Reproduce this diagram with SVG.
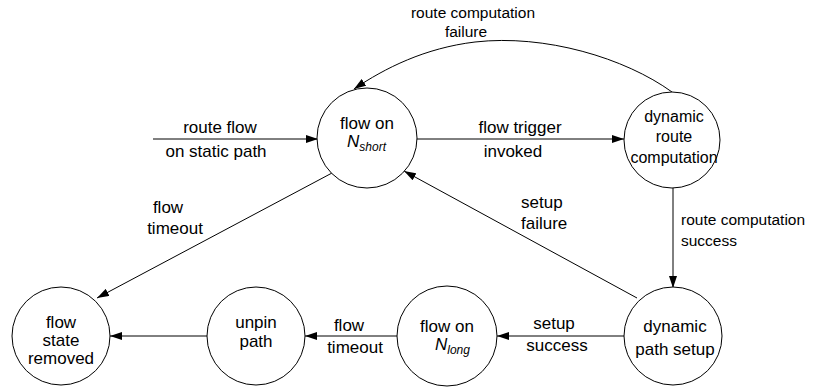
<svg xmlns="http://www.w3.org/2000/svg" width="819" height="388" viewBox="0 0 819 388">
<defs>
<marker id="ah" markerWidth="12" markerHeight="8" refX="12" refY="4" orient="auto" markerUnits="userSpaceOnUse">
<path d="M0,0 L12,4 L0,8 Z" fill="#000"/>
</marker>
<style>
.n{fill:#fff;stroke:#000;stroke-width:1}
.e{fill:none;stroke:#000;stroke-width:1;marker-end:url(#ah)}
text{font-family:"Liberation Sans",Arial,sans-serif;font-size:17px;fill:#000}
.c{text-anchor:middle}
.i{font-style:italic}
.s{font-size:12px;font-style:italic}
.m{font-size:15.5px}
.r{font-size:16px}
.q{font-size:15.5px}
</style>
</defs>
<rect width="819" height="388" fill="#fff"/>
<g id="edges">
<line class="e" x1="153" y1="139" x2="318" y2="139"/>
<line class="e" x1="417" y1="139" x2="624" y2="139"/>
<path class="e" d="M672,92 C625,58 545,34 475,42 C425,48 385,68 354,89"/>
<line class="e" x1="673" y1="187" x2="673" y2="288"/>
<line class="e" x1="637" y1="298" x2="404" y2="171"/>
<line class="e" x1="332" y1="173" x2="97" y2="298"/>
<line class="e" x1="624" y1="336" x2="497" y2="336"/>
<line class="e" x1="397" y1="336" x2="305" y2="336"/>
<line class="e" x1="207" y1="336" x2="110" y2="336"/>
<text class="c" x="220" y="133">route flow</text>
<text class="c" x="216" y="157">on static path</text>
<text class="c" x="520" y="133">flow trigger</text>
<text class="c" x="513" y="157">invoked</text>
<text class="c m" x="473" y="18">route computation</text>
<text class="c m" x="466" y="37">failure</text>
<text class="q" x="681" y="225">route computation</text>
<text class="q" x="681" y="246">success</text>
<text x="521" y="208">setup</text>
<text x="521" y="229">failure</text>
<text class="c" x="168" y="213">flow</text>
<text class="c" x="175" y="234">timeout</text>
<text class="c" x="554" y="329">setup</text>
<text class="c" x="557" y="351">success</text>
<text class="c" x="349" y="331">flow</text>
<text class="c" x="355" y="353">timeout</text>
</g>
<g id="n_short">
<circle class="n" cx="367" cy="138" r="50"/>
<text class="c" x="367" y="129">flow on</text>
<text x="347" y="147"><tspan class="i">N</tspan><tspan class="s" dy="4">short</tspan></text>
</g>
<g id="route_comp">
<circle class="n" cx="672" cy="140" r="48"/>
<text class="c r" x="674" y="122">dynamic</text>
<text class="c r" x="674" y="142">route</text>
<text class="c r" x="674" y="163">computation</text>
</g>
<g id="path_setup">
<circle class="n" cx="673" cy="336" r="49"/>
<text class="c" x="675" y="332">dynamic</text>
<text class="c" x="675" y="355">path setup</text>
</g>
<g id="n_long">
<circle class="n" cx="447" cy="336" r="50"/>
<text class="c" x="447" y="332">flow on</text>
<text x="435" y="350"><tspan class="i">N</tspan><tspan class="s" dy="4">long</tspan></text>
</g>
<g id="unpin">
<circle class="n" cx="256" cy="336" r="49"/>
<text class="c" x="256" y="328">unpin</text>
<text class="c" x="256" y="347">path</text>
</g>
<g id="removed">
<circle class="n" cx="61" cy="336" r="49"/>
<text class="c" x="61" y="328">flow</text>
<text class="c" x="61" y="346">state</text>
<text class="c" x="61" y="364">removed</text>
</g>
</svg>
